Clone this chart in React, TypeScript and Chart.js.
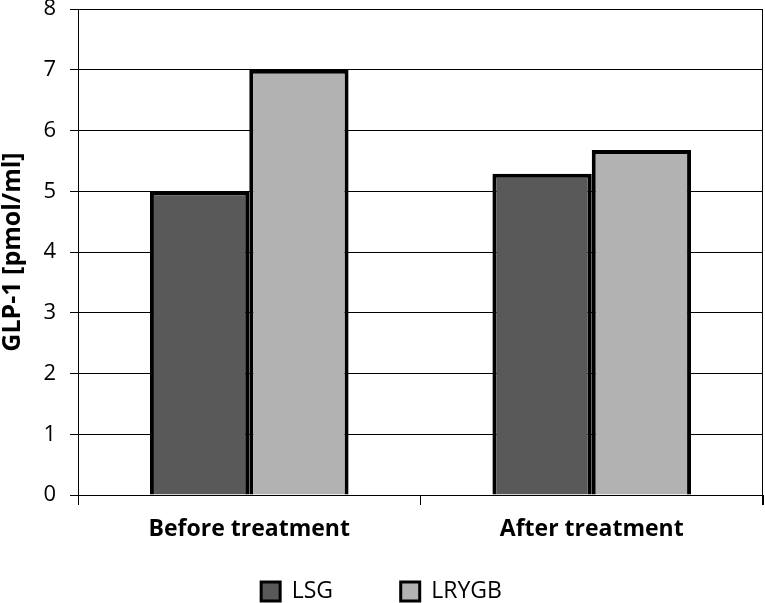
import React, { useEffect, useRef } from "react";
import { Chart, registerables } from "chart.js";

Chart.register(...registerables);

const categories = ["Before treatment", "After treatment"];
const lsgValues = [5.0, 5.29];
const lrygbValues = [7.0, 5.68];
const seriesNames = ["LSG", "LRYGB"];
const yTitle = "GLP-1 [pmol/ml]";

const FONT = "'Open Sans', 'DejaVu Sans', sans-serif";
const PLOT_LEFT = 78;
const PLOT_TOP = 9;
const PLOT_BOTTOM = 495;
const LEGEND_SHIFT = 10;

const extras = {
  id: "extras",
  afterLayout(chart: any) {
    const lg = chart.legend;
    if (lg) {
      lg.top += LEGEND_SHIFT;
      lg.bottom += LEGEND_SHIFT;
    }
  },
  afterDraw(chart: any) {
    const { ctx, chartArea } = chart;
    ctx.save();
    ctx.strokeStyle = "#000";
    ctx.lineWidth = 1;
    ctx.beginPath();
    ctx.moveTo(chartArea.right - 0.5, chartArea.top);
    ctx.lineTo(chartArea.right - 0.5, chartArea.bottom + 10);
    ctx.stroke();
    ctx.restore();
  },
};

export default function App() {
  const ref = useRef<HTMLCanvasElement>(null);
  useEffect(() => {
    if (!ref.current) return;
    const chart = new Chart(ref.current, {
      type: "bar",
      data: {
        labels: categories,
        datasets: [
          {
            label: seriesNames[0],
            data: lsgValues,
            backgroundColor: "#595959",
            borderColor: "#000",
            borderWidth: 4,
            categoryPercentage: 0.58,
            barPercentage: 1,
          },
          {
            label: seriesNames[1],
            data: lrygbValues,
            backgroundColor: "#b2b2b2",
            borderColor: "#000",
            borderWidth: 4,
            categoryPercentage: 0.58,
            barPercentage: 1,
          },
        ],
      },
      options: {
        responsive: false,
        animation: false,
        layout: { padding: { top: 0, right: 2, left: 0, bottom: 0 } },
        plugins: {
          legend: {
            position: "bottom",
            labels: {
              font: { family: FONT, size: 23, lineHeight: 1 },
              color: "#000",
              boxWidth: 19,
              boxHeight: 19,
              padding: 2,
              generateLabels: (c: any) =>
                c.data.datasets.map((ds: any, i: number) => ({
                  text: i === 0 ? ds.label + "\u00a0".repeat(11) : ds.label,
                  fillStyle: ds.backgroundColor,
                  strokeStyle: "#000",
                  lineWidth: 3,
                  datasetIndex: i,
                  fontColor: "#000",
                })),
            },
          },
          tooltip: { enabled: false },
        },
        scales: {
          x: {
            afterFit: (scale: any) => {
              const lg = scale.chart.legend;
              const lh = lg ? lg.height : 0;
              scale.height = scale.chart.height - lh - PLOT_BOTTOM;
            },
            grid: {
              drawOnChartArea: false,
              color: "#000",
              tickLength: 10,
              offset: true,
            },
            border: { color: "#000", width: 1 },
            ticks: {
              color: "#000",
              font: { family: FONT, size: 23, weight: "bold" },
              padding: 11,
              maxRotation: 0,
            },
          },
          y: {
            min: 0,
            max: 8,
            afterFit: (scale: any) => {
              scale.width = PLOT_LEFT;
              scale.paddingTop = PLOT_TOP;
            },
            ticks: {
              stepSize: 1,
              color: "#000",
              font: { family: FONT, size: 22 },
              padding: 14,
            },
            grid: { color: "#000", tickLength: 8, lineWidth: 1 },
            border: { color: "#000", width: 1 },
            title: {
              display: true,
              text: yTitle,
              color: "#000",
              font: { family: FONT, size: 25, weight: "bold", lineHeight: 1 },
              padding: { top: 0, bottom: 0 },
            },
          },
        },
      },
      plugins: [extras],
    });
    return () => chart.destroy();
  }, []);
  return (
    <div style={{ position: "absolute", left: 0, top: 0, width: 765, height: 603, background: "#fff" }}>
      <canvas ref={ref} width={765} height={603} />
    </div>
  );
}
